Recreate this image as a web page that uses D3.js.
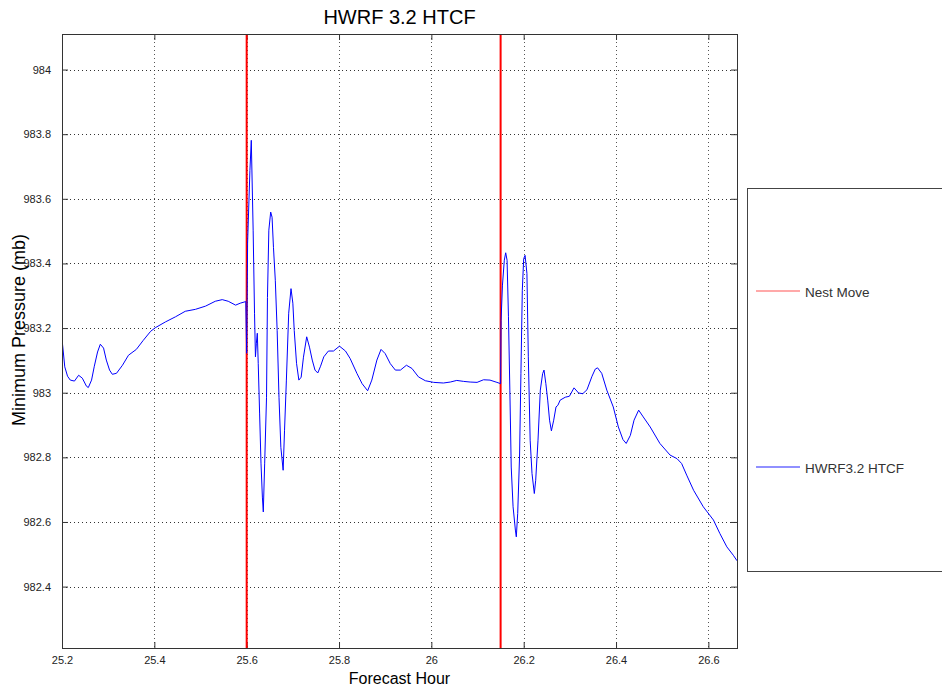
<!DOCTYPE html>
<html>
<head>
<meta charset="utf-8">
<script src="https://cdn.jsdelivr.net/npm/d3@7"></script>
<style>
  body { margin: 0; background: #fff; }
  text { font-family: "Liberation Sans", Arial, sans-serif; }
</style>
</head>
<body>
<svg id="chart" width="942" height="688"></svg>
<script>
// forecast hour of each sample
const hours = [
  25.201, 25.206, 25.212, 25.218, 25.227, 25.236, 25.244, 25.253, 25.257, 25.264,
  25.270, 25.277, 25.283, 25.290, 25.296, 25.303, 25.309, 25.318, 25.331, 25.344,
  25.361, 25.376, 25.392, 25.402, 25.424, 25.446, 25.467, 25.489, 25.511, 25.532,
  25.547, 25.560, 25.576, 25.586, 25.598, 25.600, 25.602, 25.607, 25.610, 25.614,
  25.617, 25.619, 25.621, 25.623, 25.625, 25.628, 25.631, 25.634, 25.636, 25.639,
  25.643, 25.645, 25.648, 25.652, 25.655, 25.658, 25.662, 25.666, 25.670, 25.674,
  25.679, 25.682, 25.686, 25.691, 25.696, 25.700, 25.703, 25.708, 25.713, 25.718,
  25.723, 25.730, 25.736, 25.742, 25.748, 25.754, 25.760, 25.767, 25.777, 25.788,
  25.801, 25.814, 25.824, 25.839, 25.850, 25.862, 25.871, 25.882, 25.891, 25.900,
  25.911, 25.922, 25.933, 25.946, 25.958, 25.972, 25.987, 26.005, 26.026, 26.041,
  26.055, 26.070, 26.084, 26.099, 26.113, 26.127, 26.142, 26.150, 26.151, 26.154,
  26.158, 26.161, 26.164, 26.167, 26.170, 26.173, 26.177, 26.182, 26.184, 26.187,
  26.191, 26.194, 26.197, 26.200, 26.203, 26.207, 26.210, 26.214, 26.218, 26.223,
  26.226, 26.231, 26.236, 26.241, 26.244, 26.248, 26.252, 26.256, 26.260, 26.265,
  26.270, 26.274, 26.279, 26.290, 26.299, 26.309, 26.319, 26.328, 26.337, 26.348,
  26.355, 26.360, 26.369, 26.380, 26.394, 26.405, 26.415, 26.422, 26.431, 26.439,
  26.449, 26.459, 26.474, 26.495, 26.517, 26.532, 26.542, 26.553, 26.568, 26.589,
  26.611, 26.625, 26.640, 26.654, 26.662
];

// minimum pressure (mb)
const pressure = [
  983.152, 983.080, 983.051, 983.039, 983.036, 983.054, 983.045, 983.020, 983.016, 983.039,
  983.082, 983.126, 983.150, 983.138, 983.101, 983.070, 983.057, 983.060, 983.085, 983.116,
  983.134, 983.162, 983.190, 983.201, 983.219, 983.235, 983.252, 983.258, 983.268, 983.283,
  983.288, 983.283, 983.271, 983.277, 983.282, 983.122, 983.463, 983.688, 983.781, 983.503,
  983.246, 983.111, 983.153, 983.184, 983.091, 982.937, 982.782, 982.677, 982.631, 982.782,
  982.986, 983.295, 983.503, 983.559, 983.543, 983.450, 983.348, 983.193, 982.986, 982.831,
  982.760, 982.884, 983.039, 983.246, 983.322, 983.277, 983.193, 983.091, 983.039, 983.048,
  983.110, 983.173, 983.141, 983.101, 983.070, 983.061, 983.082, 983.111, 983.129, 983.129,
  983.144, 983.129, 983.106, 983.059, 983.028, 983.006, 983.039, 983.101, 983.134, 983.121,
  983.090, 983.070, 983.070, 983.085, 983.075, 983.049, 983.037, 983.032, 983.030, 983.033,
  983.038, 983.035, 983.033, 983.032, 983.040, 983.039, 983.032, 983.028, 983.224, 983.333,
  983.410, 983.433, 983.410, 983.235, 983.008, 982.770, 982.647, 982.575, 982.554, 982.626,
  982.801, 983.059, 983.317, 983.415, 983.425, 983.369, 983.111, 982.853, 982.750, 982.688,
  982.729, 982.853, 983.008, 983.059, 983.070, 983.028, 982.977, 982.915, 982.882, 982.915,
  982.956, 982.961, 982.977, 982.986, 982.989, 983.015, 982.999, 982.997, 983.009, 983.051,
  983.073, 983.077, 983.060, 983.008, 982.956, 982.894, 982.855, 982.843, 982.868, 982.915,
  982.946, 982.925, 982.894, 982.843, 982.807, 982.796, 982.781, 982.745, 982.698, 982.647,
  982.606, 982.564, 982.523, 982.497, 982.480
];

const nestMoves = [25.6, 26.15];
const xTicks = [25.2, 25.4, 25.6, 25.8, 26, 26.2, 26.4, 26.6];
const yTicks = [982.4, 982.6, 982.8, 983, 983.2, 983.4, 983.6, 983.8, 984];
const legendLabels = ["Nest Move", "HWRF3.2 HTCF"];

const margin = { top: 34, left: 62 };
const width = 675, height = 614;

const svg = d3.select("#chart");
const g = svg.append("g").attr("transform", `translate(${margin.left},${margin.top})`);

const x = d3.scaleLinear().domain([25.2, 26.662]).range([0, width]);
const y = d3.scaleLinear().domain([982.21, 984.11]).range([height, 0]);

const fmt = d => String(+d.toFixed(1));

// grid
g.append("g").selectAll("line").data(xTicks).join("line")
  .attr("x1", d => Math.round(x(d)) + 0.5).attr("x2", d => Math.round(x(d)) + 0.5)
  .attr("y1", 0).attr("y2", height)
  .attr("stroke", "#555").attr("stroke-dasharray", "1,3");
g.append("g").selectAll("line").data(yTicks).join("line")
  .attr("y1", d => Math.round(y(d)) + 0.5).attr("y2", d => Math.round(y(d)) + 0.5)
  .attr("x1", 0).attr("x2", width)
  .attr("stroke", "#333").attr("stroke-dasharray", "1,3");

// axes with inward ticks on all four sides
const styleAxis = sel => {
  sel.select(".domain").remove();
  sel.selectAll(".tick line").attr("stroke", "#333");
  sel.selectAll("text").attr("fill", "#222").style("font-size", "11px")
    .style("font-family", "Liberation Sans, Arial, sans-serif");
};
g.append("g").attr("transform", `translate(0,${height})`)
  .call(d3.axisBottom(x).tickValues(xTicks).tickFormat(fmt).tickSizeInner(-6).tickPadding(8))
  .call(styleAxis);
g.append("g")
  .call(d3.axisTop(x).tickValues(xTicks).tickFormat("").tickSizeInner(-6))
  .call(styleAxis);
g.append("g")
  .call(d3.axisLeft(y).tickValues(yTicks).tickFormat(fmt).tickSizeInner(-6).tickPadding(11))
  .call(styleAxis);
g.append("g").attr("transform", `translate(${width},0)`)
  .call(d3.axisRight(y).tickValues(yTicks).tickFormat("").tickSizeInner(-6))
  .call(styleAxis);

// nest move markers
g.append("g").selectAll("line").data(nestMoves).join("line")
  .attr("x1", d => x(d)).attr("x2", d => x(d))
  .attr("y1", 0).attr("y2", height)
  .attr("stroke", "#ff0000").attr("stroke-width", 2);

// pressure trace
const series = hours.map((h, i) => [h, pressure[i]]);
g.append("path").datum(series)
  .attr("fill", "none").attr("stroke", "#0000ff").attr("stroke-width", 1)
  .attr("d", d3.line().x(d => x(d[0])).y(d => y(d[1])));

// frame
g.append("rect").attr("x", 0.5).attr("y", 0.5).attr("width", width).attr("height", height)
  .attr("fill", "none").attr("stroke", "#333");

// titles
svg.append("text").attr("x", margin.left + width / 2).attr("y", 24)
  .attr("text-anchor", "middle").style("font-size", "20px").attr("fill", "#000")
  .text("HWRF 3.2 HTCF");
svg.append("text").attr("x", margin.left + width / 2).attr("y", 684)
  .attr("text-anchor", "middle").style("font-size", "16px").attr("fill", "#000")
  .text("Forecast Hour");
svg.append("text").attr("transform", "translate(25,330) rotate(-90)")
  .attr("text-anchor", "middle").style("font-size", "18px").attr("fill", "#000")
  .text("Minimum Pressure (mb)");

// legend
const legend = svg.append("g");
legend.append("rect").attr("x", 747.5).attr("y", 188.5).attr("width", 220).attr("height", 383)
  .attr("fill", "#fff").attr("stroke", "#444");
const legendColors = ["#ff5555", "#2222ff"];
const legendY = [291, 467];
legendLabels.forEach((label, i) => {
  legend.append("line").attr("x1", 756).attr("x2", 800)
    .attr("y1", legendY[i]).attr("y2", legendY[i])
    .attr("stroke", legendColors[i]).attr("stroke-width", 1.2);
  legend.append("text").attr("x", 805).attr("y", legendY[i] + 6)
    .style("font-size", "13.5px").attr("fill", "#333").text(label);
});
</script>
</body>
</html>
